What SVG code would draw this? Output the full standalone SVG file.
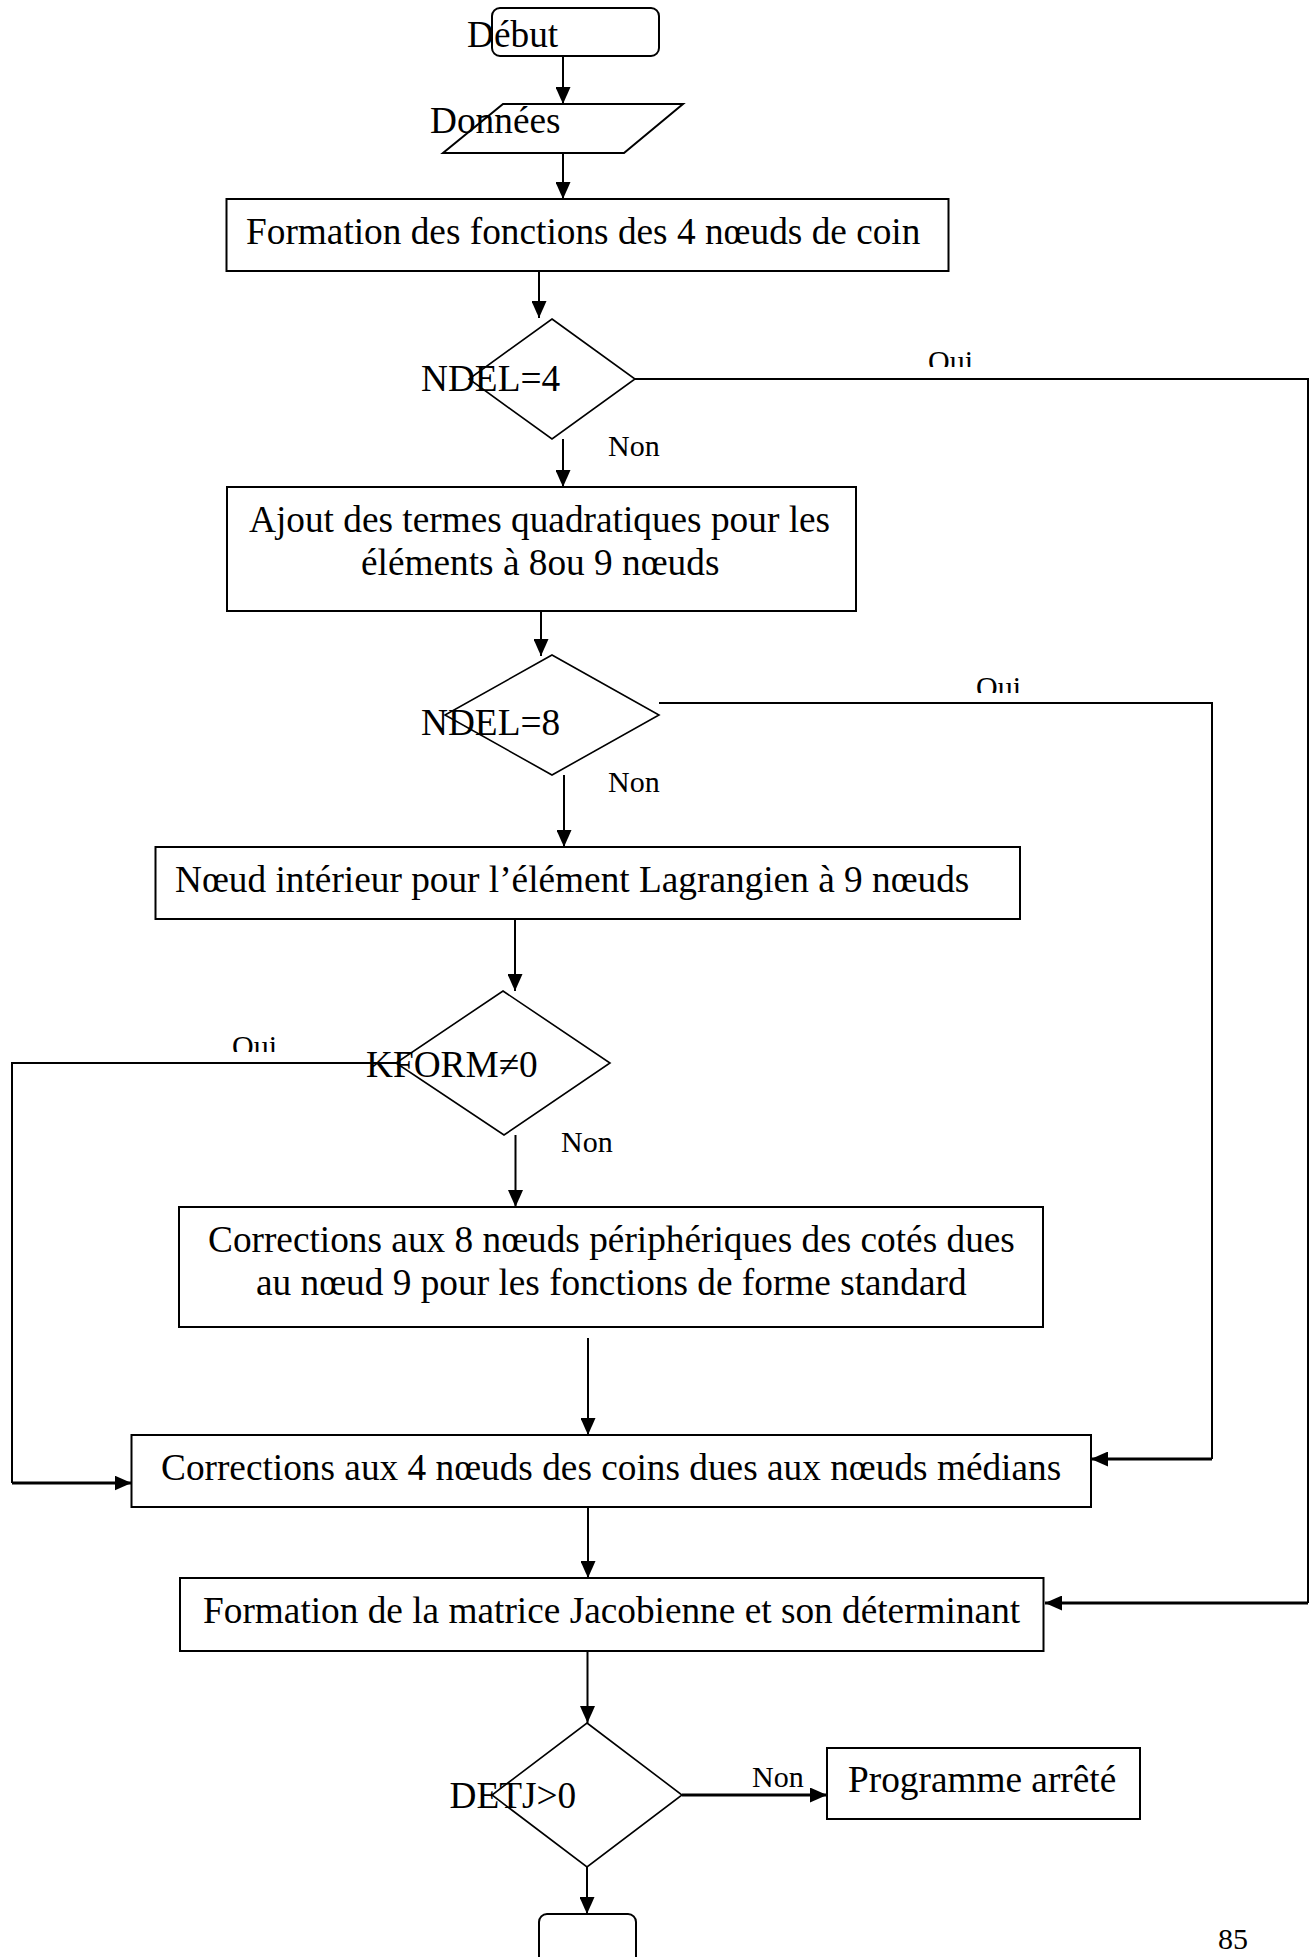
<svg xmlns="http://www.w3.org/2000/svg" width="1313" height="1957" viewBox="0 0 1313 1957">
  <style>
    text { font-family: "Liberation Serif", "Times New Roman", serif; fill: #000; }
    .t { font-size: 37.3px; }
    .lbl { font-size: 30px; }
    .box { fill: #fff; stroke: #000; stroke-width: 2; }
    .dia { fill: #fff; stroke: #000; stroke-width: 1.6; }
    .ln { fill: none; stroke: #000; stroke-width: 2; }
    .thk { fill: none; stroke: #000; stroke-width: 3; }
  </style>
  <defs>
    <marker id="arrow" markerUnits="userSpaceOnUse" markerWidth="17" markerHeight="15" refX="17" refY="7.5" orient="auto">
      <path d="M0,0 L17,7.5 L0,15 z" fill="#000"/>
    </marker>
    <!-- the "Oui" labels are cut just above their baseline -->
    <clipPath id="cut1"><rect x="900" y="330" width="120" height="37"/></clipPath>
    <clipPath id="cut2"><rect x="950" y="650" width="120" height="43"/></clipPath>
    <clipPath id="cut3"><rect x="200" y="1010" width="120" height="42"/></clipPath>
  </defs>
  <rect width="1313" height="1957" fill="#fff"/>

  <!-- connectors -->
  <g id="connectors">
    <line class="ln" x1="563" y1="56" x2="563" y2="104" marker-end="url(#arrow)"/>
    <line class="ln" x1="563" y1="153" x2="563" y2="199" marker-end="url(#arrow)"/>
    <line class="ln" x1="539" y1="271" x2="539" y2="318" marker-end="url(#arrow)"/>
    <line class="ln" x1="563" y1="439" x2="563" y2="487" marker-end="url(#arrow)"/>
    <line class="ln" x1="541" y1="611" x2="541" y2="656" marker-end="url(#arrow)"/>
    <line class="ln" x1="564" y1="775" x2="564" y2="847" marker-end="url(#arrow)"/>
    <line class="ln" x1="515" y1="919" x2="515" y2="991" marker-end="url(#arrow)"/>
    <line class="ln" x1="515.5" y1="1135" x2="515.5" y2="1207" marker-end="url(#arrow)"/>
    <line class="ln" x1="588" y1="1338" x2="588" y2="1435" marker-end="url(#arrow)"/>
    <line class="ln" x1="588" y1="1507" x2="588" y2="1578" marker-end="url(#arrow)"/>
    <line class="ln" x1="587.5" y1="1651" x2="587.5" y2="1723" marker-end="url(#arrow)"/>
    <line class="ln" x1="587" y1="1867" x2="587" y2="1914" marker-end="url(#arrow)"/>
    <line class="thk" x1="682" y1="1795" x2="827" y2="1795" marker-end="url(#arrow)"/>

    <!-- NDEL=4 : Oui -> Jacobian -->
    <polyline class="ln" points="635,379 1308,379 1308,1603"/>
    <line class="thk" x1="1308" y1="1603" x2="1045" y2="1603" marker-end="url(#arrow)"/>
    <!-- NDEL=8 : Oui -> corner corrections -->
    <polyline class="ln" points="659,703 1212,703 1212,1459"/>
    <line class="thk" x1="1212" y1="1459" x2="1091" y2="1459" marker-end="url(#arrow)"/>
    <!-- KFORM : Oui -> corner corrections -->
    <polyline class="ln" points="398,1063 12,1063 12,1483"/>
    <line class="thk" x1="12" y1="1483" x2="131.5" y2="1483" marker-end="url(#arrow)"/>

    <text class="lbl" x="928" y="371" clip-path="url(#cut1)">Oui</text>
    <text class="lbl" x="608" y="456">Non</text>
    <text class="lbl" x="976" y="697" clip-path="url(#cut2)">Oui</text>
    <text class="lbl" x="608" y="792">Non</text>
    <text class="lbl" x="232" y="1056" clip-path="url(#cut3)">Oui</text>
    <text class="lbl" x="561" y="1152">Non</text>
    <text class="lbl" x="752" y="1787">Non</text>
  </g>

  <g id="debut">
    <rect class="box" x="492" y="8" width="167" height="48" rx="8"/>
    <text class="t" x="467" y="47">Début</text>
  </g>

  <g id="donnees">
    <polygon class="box" points="503,104 683,104 624,153 443,153"/>
    <text class="t" x="430" y="133">Données</text>
  </g>

  <g id="formation-coins">
    <rect class="box" x="226.5" y="199" width="722" height="72"/>
    <text class="t" x="246" y="244">Formation des fonctions des 4 nœuds de coin</text>
  </g>

  <g id="test-ndel4">
    <polygon class="dia" points="552,319 635,379 552,439 469,379"/>
    <text class="t" x="421" y="391">NDEL=4</text>
  </g>

  <g id="termes-quadratiques">
    <rect class="box" x="227" y="487" width="629" height="124"/>
    <text class="t" x="249" y="532">Ajout des termes quadratiques pour les</text>
    <text class="t" x="361" y="575">éléments à 8ou 9 nœuds</text>
  </g>

  <g id="test-ndel8">
    <polygon class="dia" points="552,655 659,715 552,775 445,715"/>
    <text class="t" x="421" y="735">NDEL=8</text>
  </g>

  <g id="noeud-interieur">
    <rect class="box" x="155.5" y="847" width="864.5" height="72"/>
    <text class="t" x="175" y="892">Nœud intérieur pour l’élément Lagrangien à 9 nœuds</text>
  </g>

  <g id="test-kform">
    <polygon class="dia" points="503,991 610,1063 504,1135 396,1063"/>
    <text class="t" x="366" y="1077">KFORM≠0</text>
  </g>

  <g id="corrections-peripheriques">
    <rect class="box" x="179" y="1207" width="864" height="120"/>
    <text class="t" x="208" y="1252">Corrections aux 8 nœuds périphériques des cotés dues</text>
    <text class="t" x="256" y="1295">au nœud 9 pour les fonctions de forme standard</text>
  </g>

  <g id="corrections-coins">
    <rect class="box" x="131.5" y="1435" width="959.5" height="72"/>
    <text class="t" x="161" y="1480">Corrections aux 4 nœuds des coins dues aux nœuds médians</text>
  </g>

  <g id="jacobienne">
    <rect class="box" x="180" y="1578" width="863.5" height="73"/>
    <text class="t" x="203" y="1623">Formation de la matrice Jacobienne et son déterminant</text>
  </g>

  <g id="test-detj">
    <polygon class="dia" points="587,1723 682,1795 587,1867 492,1795"/>
    <text class="t" x="449.5" y="1808">DETJ&gt;0</text>
  </g>

  <g id="programme-arrete">
    <rect class="box" x="827" y="1748" width="313" height="71"/>
    <text class="t" x="848" y="1792">Programme arrêté</text>
  </g>

  <g id="fin">
    <rect class="box" x="539" y="1914" width="97" height="70" rx="8"/>
  </g>

  <text class="lbl" x="1218" y="1949">85</text>
</svg>
